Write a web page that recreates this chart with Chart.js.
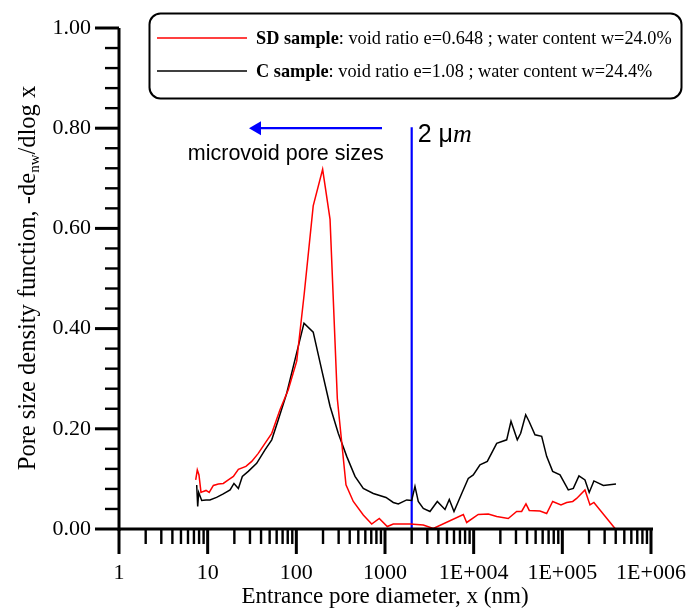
<!DOCTYPE html>
<html>
<head>
<meta charset="utf-8">
<script src="https://cdn.jsdelivr.net/npm/chart.js@4.4.1/dist/chart.umd.min.js"></script>
<style>
html,body{margin:0;padding:0;background:#fff;}
#wrap{width:700px;height:612px;}
</style>
</head>
<body>
<div id="wrap"><canvas id="c" width="700" height="612"></canvas></div>
<script>
// ---------- data ----------
const sdX = [7.33,7.64,7.98,8.41,8.93,9.58,10.4,11.6,13.2,15.0,17.1,19.5,22.2,27.0,31.4,37.2,44.3,52.8,65.4,81.1,101,123,155,198,240,290,363,439,569,708,862,1061,1240,1476,1914,2703,3506,7645,8340,11270,14620,18190,24550,30530,34770,38890,42380,55960,66540,77800,96500,112000,131000,145000,180000,205000,227000,393000];
const sdY = [0.098,0.118,0.108,0.073,0.075,0.077,0.073,0.087,0.090,0.091,0.098,0.105,0.119,0.125,0.135,0.151,0.171,0.191,0.238,0.278,0.335,0.471,0.645,0.718,0.618,0.260,0.088,0.055,0.028,0.010,0.021,0.005,0.010,0.010,0.010,0.008,0.001,0.029,0.013,0.029,0.030,0.025,0.021,0.035,0.035,0.050,0.037,0.036,0.031,0.055,0.048,0.053,0.055,0.061,0.078,0.048,0.053,0.001];

const cX = [7.52,7.72,7.92,8.57,9.58,10.6,12.6,15.0,17.9,19.8,22.2,24.6,28.7,35.7,44.3,52.8,62.6,77.9,96.6,122,155,193,240,297,370,459,569,738,1026,1240,1413,1757,2000,2178,2373,2703,3215,3890,4750,5310,6000,7330,8690,9900,11780,14250,18190,23570,26360,31040,33900,38610,42070,49170,58480,66540,77800,94150,116700,133000,154000,180000,201000,227000,290000,403000];
const cY = [0.088,0.045,0.073,0.057,0.058,0.058,0.063,0.070,0.078,0.091,0.081,0.105,0.115,0.131,0.158,0.178,0.218,0.271,0.338,0.411,0.393,0.318,0.245,0.191,0.145,0.105,0.081,0.071,0.063,0.053,0.050,0.058,0.057,0.085,0.055,0.041,0.035,0.055,0.039,0.059,0.035,0.071,0.101,0.108,0.128,0.135,0.171,0.178,0.215,0.178,0.191,0.228,0.215,0.188,0.185,0.145,0.115,0.108,0.078,0.081,0.106,0.098,0.073,0.096,0.087,0.090];

// 2 µm boundary marker and the "microvoid" arrow
const boundaryX = [2000, 2000];
const boundaryY = [0, 0.802];
const arrowX = [925, 36];
const arrowY = [0.80, 0.80];

// tick labels
const xTickLabels = ["1","10","100","1000","1E+004","1E+005","1E+006"];
const yTickLabels = ["0.00","0.20","0.40","0.60","0.80","1.00"];

// texts
const legendBold = ["SD sample", "C sample"];
const legendRest = [": void ratio e=0.648 ; water content w=24.0%", ": void ratio e=1.08 ; water content w=24.4%"];
const xTitle = "Entrance pore diameter, x (nm)";
const yTitleParts = ["Pore size density function, -de", "nw", "/dlog x"];
const noteMicro = "microvoid pore sizes";
const noteTwo = "2 \u03bc";
const noteTwoItalic = "m";

// ---------- helpers ----------
const pts = (xs, ys) => xs.map((x, i) => ({x: x, y: ys[i]}));
const isDecade = v => Math.abs(Math.log10(v) - Math.round(Math.log10(v))) < 1e-9;
const xTickValues = [];
for (let k = 0; k <= 5; k++) for (let n = 1; n <= 9; n++) xTickValues.push(n * Math.pow(10, k));
xTickValues.push(1e6);

const SERIF = "'Liberation Serif', 'Times New Roman', serif";
const SANS = "'Liberation Sans', Arial, sans-serif";

const decorations = {
  id: 'decorations',
  afterDraw(chart) {
    const ctx = chart.ctx;
    const x = chart.scales.x, y = chart.scales.y;
    const L = chart.chartArea.left, B = chart.chartArea.bottom, T = chart.chartArea.top, R = chart.chartArea.right;
    ctx.save();
    ctx.strokeStyle = '#000';
    ctx.lineCap = 'butt';
    // axis lines
    ctx.lineWidth = 3;
    ctx.beginPath(); ctx.moveTo(L, T); ctx.lineTo(L, B + 2); ctx.stroke();
    ctx.beginPath(); ctx.moveTo(L - 1, B); ctx.lineTo(R + 2, B); ctx.stroke();
    // x ticks
    x.ticks.forEach(t => {
      const px = x.getPixelForValue(t.value);
      const major = isDecade(t.value);
      ctx.lineWidth = major ? 3 : 2.4;
      ctx.beginPath(); ctx.moveTo(px, B); ctx.lineTo(px, B + (major ? 25 : 15)); ctx.stroke();
    });
    // y ticks
    y.ticks.forEach(t => {
      const py = y.getPixelForValue(t.value);
      const major = Math.round(t.value * 100) % 20 === 0;
      ctx.lineWidth = major ? 3 : 2.4;
      ctx.beginPath(); ctx.moveTo(L, py); ctx.lineTo(L - (major ? 24 : 14), py); ctx.stroke();
    });

    // y title with subscript
    ctx.save();
    ctx.fillStyle = '#000';
    const fBig = "24.5px " + SERIF, fSmall = "15px " + SERIF;
    ctx.font = fBig; const w1 = ctx.measureText(yTitleParts[0]).width, w3 = ctx.measureText(yTitleParts[2]).width;
    ctx.font = fSmall; const w2 = ctx.measureText(yTitleParts[1]).width;
    const tot = w1 + w2 + w3;
    ctx.translate(29, 278);
    ctx.rotate(-Math.PI / 2);
    ctx.textBaseline = 'middle';
    ctx.textAlign = 'left';
    let cx = -tot / 2;
    ctx.font = fBig; ctx.fillText(yTitleParts[0], cx, 0); cx += w1;
    ctx.font = fSmall; ctx.fillText(yTitleParts[1], cx, 6); cx += w2;
    ctx.font = fBig; ctx.fillText(yTitleParts[2], cx, 0);
    ctx.restore();

    // notes
    ctx.fillStyle = '#000';
    ctx.textBaseline = 'alphabetic';
    ctx.textAlign = 'center';
    ctx.font = "21.5px " + SANS;
    ctx.fillText(noteMicro, x.getPixelForValue(76), y.getPixelForValue(0.736));
    ctx.textAlign = 'left';
    const nx = x.getPixelForValue(2000) + 6, ny = y.getPixelForValue(0.772);
    ctx.font = "25px " + SANS;
    ctx.fillText(noteTwo, nx, ny);
    const wt = ctx.measureText(noteTwo).width;
    ctx.font = "italic 26px " + SERIF;
    ctx.fillText(noteTwoItalic, nx + wt, ny);

    // legend box
    ctx.lineWidth = 2;
    ctx.strokeStyle = '#000';
    ctx.beginPath();
    ctx.roundRect(149.5, 13.5, 532, 85, 11);
    ctx.fillStyle = '#fff';
    ctx.fill();
    ctx.stroke();
    const rows = [38, 71];
    const colors = [chart.data.datasets[0].borderColor, chart.data.datasets[1].borderColor];
    rows.forEach((ry, i) => {
      ctx.strokeStyle = colors[i];
      ctx.lineWidth = 1.5;
      ctx.beginPath(); ctx.moveTo(157, ry); ctx.lineTo(247, ry); ctx.stroke();
      ctx.fillStyle = '#000';
      ctx.textBaseline = 'middle';
      ctx.font = "bold 18.3px " + SERIF;
      ctx.fillText(legendBold[i], 256, ry + 1);
      const bw = ctx.measureText(legendBold[i]).width;
      ctx.font = "18.3px " + SERIF;
      ctx.fillText(legendRest[i], 256 + bw, ry + 1);
    });
    ctx.restore();
  }
};

new Chart(document.getElementById('c'), {
  type: 'line',
  data: {
    datasets: [
      {label: 'SD sample', data: pts(sdX, sdY), borderColor: '#ff0000', borderWidth: 1.5, pointRadius: 0, tension: 0, fill: false},
      {label: 'C sample', data: pts(cX, cY), borderColor: '#000000', borderWidth: 1.5, pointRadius: 0, tension: 0, fill: false},
      {label: '2 um', data: pts(boundaryX, boundaryY), borderColor: '#0000ff', borderWidth: 2.2, pointRadius: 0, tension: 0, fill: false},
      {label: 'arrow', data: pts(arrowX, arrowY), borderColor: '#0000ff', backgroundColor: '#0000ff', borderWidth: 2.2,
       pointRadius: [0, 8], pointStyle: 'triangle', rotation: -90, pointBorderWidth: 0, tension: 0, fill: false}
    ]
  },
  options: {
    responsive: false,
    animation: false,
    devicePixelRatio: 1,
    layout: {padding: {top: 28, right: 49, left: 0, bottom: 0}},
    plugins: {legend: {display: false}, tooltip: {enabled: false}},
    scales: {
      x: {
        type: 'logarithmic', min: 1, max: 1e6,
        afterBuildTicks: s => { s.ticks = xTickValues.map(v => ({value: v, major: isDecade(v)})); },
        afterFit: s => { s.height = 83; },
        grid: {display: true, drawOnChartArea: false, drawTicks: true, tickLength: 24, color: 'rgba(0,0,0,0)'},
        border: {display: false},
        ticks: {
          autoSkip: false, maxRotation: 0, minRotation: 0, padding: 7, color: '#000',
          font: {family: SERIF, size: 22},
          callback: v => isDecade(v) ? xTickLabels[Math.round(Math.log10(v))] : ''
        },
        title: {display: true, text: xTitle, color: '#000', font: {family: SERIF, size: 23}, padding: {top: 0, bottom: 1}}
      },
      y: {
        type: 'linear', min: 0, max: 1,
        afterBuildTicks: s => { const t = []; for (let i = 0; i <= 25; i++) t.push({value: +(i * 0.04).toFixed(2)}); s.ticks = t; },
        afterFit: s => { s.width = 119; },
        grid: {display: true, drawOnChartArea: false, drawTicks: true, tickLength: 24, color: 'rgba(0,0,0,0)'},
        border: {display: false},
        ticks: {
          autoSkip: false, padding: 4, color: '#000',
          font: {family: SERIF, size: 22},
          callback: v => (Math.round(v * 100) % 20 === 0) ? yTickLabels[Math.round(v * 5)] : ''
        }
      }
    }
  },
  plugins: [decorations]
});
</script>
</body>
</html>
